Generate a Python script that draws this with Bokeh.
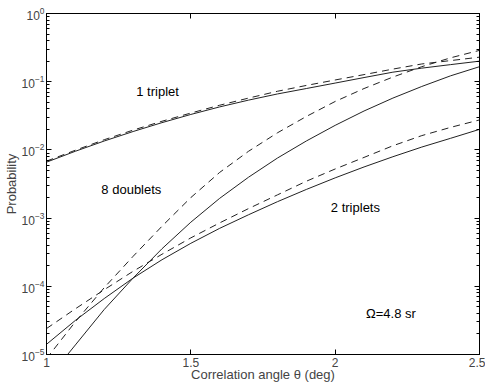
from bokeh.plotting import figure
from bokeh.models import Range1d, LinearAxis, LogAxis, FixedTicker, Label
from bokeh.embed import file_html
from bokeh.resources import INLINE

# ---- data ----
theta = [1.0, 1.1, 1.2, 1.3, 1.4, 1.5, 1.6, 1.7, 1.8, 1.9, 2.0, 2.1, 2.2, 2.3, 2.4, 2.5]

one_triplet_solid = [6.61e-3, 9.55e-3, 1.35e-2, 1.86e-2, 2.51e-2, 3.31e-2, 4.27e-2, 5.37e-2,
                     6.61e-2, 7.94e-2, 9.55e-2, 0.115, 0.138, 0.158, 0.178, 0.200]
one_triplet_dashed = [6.84e-3, 9.89e-3, 1.41e-2, 1.95e-2, 2.63e-2, 3.47e-2, 4.52e-2, 5.75e-2,
                      7.24e-2, 8.81e-2, 0.106, 0.127, 0.153, 0.182, 0.204, 0.229]

eight_doublets_solid = [4.17e-6, 1.38e-5, 4.57e-5, 1.32e-4, 3.55e-4, 8.71e-4, 1.95e-3, 3.98e-3,
                        7.59e-3, 1.35e-2, 2.29e-2, 3.72e-2, 5.75e-2, 8.51e-2, 0.122, 0.166]
eight_doublets_dashed = [8.7e-6, 3.02e-5, 9.55e-5, 2.75e-4, 7.59e-4, 2.00e-3, 4.68e-3, 9.55e-3,
                         1.78e-2, 3.09e-2, 5.13e-2, 7.94e-2, 0.117, 0.166, 0.224, 0.288]

two_triplets_solid = [1.41e-5, 3.16e-5, 6.61e-5, 1.32e-4, 2.45e-4, 4.27e-4, 7.08e-4, 1.12e-3,
                      1.74e-3, 2.63e-3, 3.89e-3, 5.62e-3, 7.94e-3, 1.10e-2, 1.48e-2, 2.00e-2]
two_triplets_dashed = [2.40e-5, 4.68e-5, 8.91e-5, 1.66e-4, 2.95e-4, 5.13e-4, 8.51e-4, 1.38e-3,
                       2.19e-3, 3.47e-3, 5.25e-3, 7.76e-3, 1.15e-2, 1.62e-2, 2.14e-2, 2.75e-2]

xtick_values = [1, 1.5, 2, 2.5]
xtick_labels = ["1", "1.5", "2", "2.5"]
ytick_values = [1e-5, 1e-4, 1e-3, 1e-2, 1e-1, 1e0]
yminor_values = [m * d for d in ytick_values[:-1] for m in range(2, 10)]

FONT = "Liberation Sans"
LINE = "#222222"

p = figure(width=485, height=378,
           x_range=Range1d(1, 2.5), y_range=Range1d(1e-5, 1),
           y_axis_type="log", output_backend="svg", toolbar_location=None,
           min_border_left=39, min_border_right=6, min_border_top=7, min_border_bottom=27,
           x_axis_label="Correlation angle θ (deg)", y_axis_label="Probability")
p.margin = (6, 0, 0, 0)
p.background_fill_color = "white"
p.border_fill_color = "white"
p.outline_line_color = "black"
p.xgrid.visible = False
p.ygrid.visible = False

# curves
p.line(theta, one_triplet_solid, line_color=LINE, line_width=1)
p.line(theta, one_triplet_dashed, line_color=LINE, line_width=1, line_dash="7 5")
p.line(theta, eight_doublets_solid, line_color=LINE, line_width=1)
p.line(theta, eight_doublets_dashed, line_color=LINE, line_width=1, line_dash="7 5")
p.line(theta, two_triplets_solid, line_color=LINE, line_width=1)
p.line(theta, two_triplets_dashed, line_color=LINE, line_width=1, line_dash="7 5")

# axes styling
xa = p.xaxis[0]
xa.ticker = FixedTicker(ticks=xtick_values)
xa.major_label_overrides = {v: s for v, s in zip(xtick_values, xtick_labels)}
xa.major_tick_in = 5
xa.major_tick_out = 0
xa.minor_tick_in = 0
xa.minor_tick_out = 0
xa.major_label_standoff = 3
xa.axis_label_standoff = -3
xa.major_label_text_font = FONT
xa.major_label_text_font_size = "12px"
xa.axis_label_text_font = FONT
xa.axis_label_text_font_size = "13px"
xa.axis_label_text_font_style = "normal"
xa.axis_line_color = "black"
xa.major_tick_line_color = "black"

ya = p.yaxis[0]
ya.ticker = FixedTicker(ticks=ytick_values, minor_ticks=yminor_values)
ya.major_tick_in = 5
ya.major_tick_out = 0
ya.minor_tick_in = 3
ya.minor_tick_out = 0
ya.major_label_standoff = 2
ya.axis_label_standoff = 0
ya.major_label_text_font = FONT
ya.major_label_text_font_size = "12px"
ya.axis_label_text_font = FONT
ya.axis_label_text_font_size = "13px"
ya.axis_label_text_font_style = "normal"
ya.axis_line_color = "black"

top = LinearAxis(ticker=FixedTicker(ticks=xtick_values),
                 major_label_text_font_size="1px", major_label_text_alpha=0,
                 major_tick_in=5, major_tick_out=0, minor_tick_in=0, minor_tick_out=0,
                 major_label_standoff=6, axis_line_color="black")
p.add_layout(top, "above")
right = LogAxis(ticker=FixedTicker(ticks=ytick_values, minor_ticks=yminor_values),
                major_label_text_font_size="1px", major_label_text_alpha=0,
                major_tick_in=5, major_tick_out=0,
                minor_tick_in=3, minor_tick_out=0, major_label_standoff=0,
                axis_line_color="black")
p.add_layout(right, "right")

# annotations
for x, y, t in [(1.311, 0.0716, "1 triplet"), (1.19, 2.61e-3, "8 doublets"),
                (1.985, 1.44e-3, "2 triplets"), (2.107, 3.98e-5, "Ω=4.8 sr")]:
    p.add_layout(Label(x=x, y=y, text=t, text_font=FONT, text_font_size="13px",
                       text_baseline="middle", text_align="left", text_color="black"))

open("out.html", "w").write(file_html(p, INLINE))
